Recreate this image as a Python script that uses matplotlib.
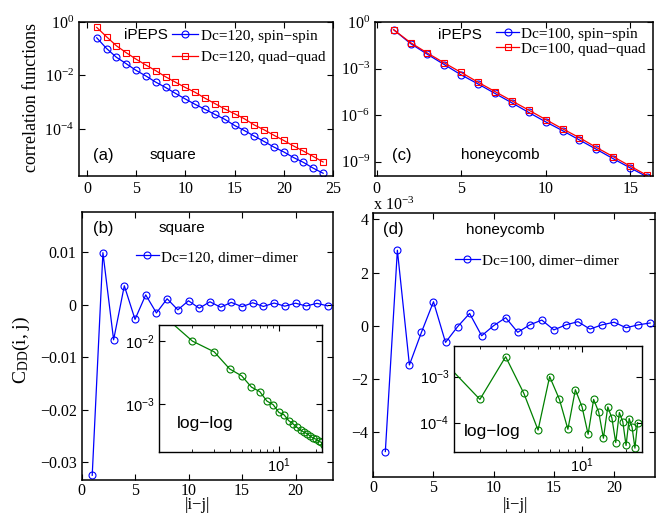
import numpy as np
import matplotlib
matplotlib.use("Agg")
import matplotlib.pyplot as plt
from matplotlib.ticker import FuncFormatter, NullFormatter, FixedLocator

plt.rcParams['font.family'] = ['Liberation Serif', 'DejaVu Serif']
plt.rcParams['mathtext.fontset'] = 'custom'
plt.rcParams['mathtext.rm'] = 'Liberation Serif'
plt.rcParams['mathtext.sf'] = 'Liberation Sans'
plt.rcParams['mathtext.it'] = 'Liberation Serif:italic'
plt.rcParams['font.size'] = 11.5

# ---- data ----
# (a) square lattice, Dc=120
n_sq = np.arange(1, 25)
ss_square = [0.257, 0.102, 0.0479, 0.0275, 0.0155, 0.00955, 0.00562, 0.00355, 0.00214, 0.00132,
             8.3e-4, 5.4e-4, 3.5e-4, 2.3e-4, 1.35e-4, 8.7e-5, 5.4e-5, 3.4e-5, 2.1e-5, 1.38e-5,
             8.5e-6, 5.6e-6, 3.4e-6, 2.2e-6]
qq_square = [0.63, 0.28, 0.129, 0.0708, 0.0407, 0.0245, 0.0151, 0.0089, 0.0056, 0.00355,
             0.00234, 0.00141, 8.9e-4, 5.6e-4, 3.7e-4, 2.4e-4, 1.41e-4, 9.3e-5, 5.8e-5, 3.7e-5,
             2.3e-5, 1.48e-5, 9.3e-6, 5.8e-6]

# (c) honeycomb lattice, Dc=100
n_hc = np.arange(1, 17)
ss_honey = [0.32, 0.041, 8.3e-3, 1.8e-3, 3.9e-4, 1.02e-4, 2.5e-5, 6.2e-6, 1.48e-6, 3.7e-7,
            1.0e-7, 2.5e-8, 6.3e-9, 1.55e-9, 4.0e-10, 1.07e-10]
qq_honey = [0.32, 0.047, 0.01, 2.3e-3, 5.6e-4, 1.32e-4, 3.3e-5, 8.3e-6, 2.1e-6, 5.2e-7,
            1.32e-7, 3.5e-8, 8.3e-9, 2.1e-9, 5.2e-10, 1.32e-10]

# (b) dimer-dimer, square
n_dd = np.arange(1, 24)
dd_square = [-0.0325, 0.0099, -0.0067, 0.0036, -0.0028, 0.00186, -0.00158, 0.00112, -0.00098,
             0.00074, -0.00068, 0.00055, -0.00049, 0.00043, -0.00039, 0.00036, -0.00034,
             0.00031, -0.00029, 0.00028, -0.00026, 0.00025, -0.00023]

# (d) dimer-dimer, honeycomb
dd_honey = [-4.74e-3, 2.84e-3, -1.48e-3, -0.25e-3, 0.9e-3, -0.63e-3, -0.04e-3, 0.46e-3, -0.38e-3,
            0.0, 0.3e-3, -0.25e-3, 0.03e-3, 0.21e-3, -0.16e-3, 0.03e-3, 0.15e-3, -0.13e-3,
            0.03e-3, 0.13e-3, -0.08e-3, 0.03e-3, 0.1e-3]
# inset of (d), log-log
n_dd_in = np.arange(1, 25)
dd_honey_in = [3.2e-3, 3.2e-4, 2.7e-3, 4.3e-4, 6.9e-5, 1.0e-3, 3.2e-4, 7.2e-5, 5.2e-4, 2.2e-4,
               5.6e-5, 3.2e-4, 1.7e-4, 4.6e-5, 2.2e-4, 1.26e-4, 3.7e-5, 1.66e-4, 1.05e-4, 3.2e-5,
               1.23e-4, 7.9e-5, 2.8e-5, 1.0e-4]

BLUE = (0, 0, 1)
RED = (1, 0, 0)
GREEN = (0, 0.5, 0)
SANS = 'Liberation Sans'
LEG_FS = 11
MS_O = 5
MS_S = 4.5

fig = plt.figure(figsize=(6.6, 5.14), dpi=100)


def style(ax, lw=1.1):
    ax.tick_params(which='both', direction='in', top=True, right=True)
    ax.tick_params(which='major', length=4, width=0.8)
    ax.tick_params(which='minor', length=2, width=0.6)
    for s in ax.spines.values():
        s.set_linewidth(lw)


def num_fmt(v, pos):
    s = '%g' % v
    return s.replace('-', '\u2212')


def sans_log(v, pos):
    return r'$\mathsf{10^{%d}}$' % int(round(np.log10(v)))


# ---- (a) ----
axa = fig.add_axes([0.1197, 0.6576, 0.3848, 0.2996])
axa.semilogy(n_sq, ss_square, '-o', color=BLUE, lw=0.9, ms=MS_O, mfc='none', mew=0.8,
             label='Dc=120, spin\u2212spin')
axa.semilogy(n_sq, qq_square, '-s', color=RED, lw=0.9, ms=MS_S, mfc='none', mew=0.8,
             label='Dc=120, quad\u2212quad')
axa.set_xlim(-0.8, 25)
axa.set_ylim(10**-5.76, 1)
axa.set_xticks([0, 5, 10, 15, 20, 25])
axa.yaxis.set_major_locator(FixedLocator([1, 1e-2, 1e-4]))
axa.yaxis.set_minor_locator(FixedLocator([]))
style(axa)
axa.legend(loc='upper left', bbox_to_anchor=(0.365, 0.955), frameon=False, borderpad=0,
           borderaxespad=0, handlelength=1.75, handletextpad=0.15, labelspacing=0.5,
           numpoints=1, fontsize=LEG_FS)
axa.text(0.264, 0.916, 'iPEPS', transform=axa.transAxes, ha='center', va='center',
         family=SANS, fontsize=11)
axa.text(0.094, 0.136, '(a)', transform=axa.transAxes, ha='center', va='center',
         family=SANS, fontsize=12)
axa.text(0.37, 0.136, 'square', transform=axa.transAxes, ha='center', va='center',
         family=SANS, fontsize=11)

# ---- (c) ----
axc = fig.add_axes([0.5682, 0.6576, 0.4212, 0.2996])
axc.semilogy(n_hc, ss_honey, '-o', color=BLUE, lw=0.9, ms=MS_O, mfc='none', mew=0.8,
             label='Dc=100, spin\u2212spin')
axc.semilogy(n_hc, qq_honey, '-s', color=RED, lw=0.9, ms=MS_S, mfc='none', mew=0.8,
             label='Dc=100, quad\u2212quad')
axc.set_xlim(-0.1, 16.35)
axc.set_ylim(10**-9.92, 1)
axc.set_xticks([0, 5, 10, 15])
axc.yaxis.set_major_locator(FixedLocator([1, 1e-3, 1e-6, 1e-9]))
axc.yaxis.set_minor_locator(FixedLocator([]))
style(axc)
axc.legend(loc='upper left', bbox_to_anchor=(0.437, 0.968), frameon=False, borderpad=0,
           borderaxespad=0, handlelength=1.5, handletextpad=0.12, labelspacing=0.1,
           numpoints=1, fontsize=LEG_FS)
axc.text(0.306, 0.916, 'iPEPS', transform=axc.transAxes, ha='center', va='center',
         family=SANS, fontsize=11)
axc.text(0.096, 0.136, '(c)', transform=axc.transAxes, ha='center', va='center',
         family=SANS, fontsize=12)
axc.text(0.45, 0.136, 'honeycomb', transform=axc.transAxes, ha='center', va='center',
         family=SANS, fontsize=11)

# ---- (b) ----
axb = fig.add_axes([0.1235, 0.0661, 0.381, 0.522])
axb.plot(n_dd, dd_square, '-o', color=BLUE, lw=0.9, ms=MS_O, mfc='none', mew=0.8,
         label='Dc=120, dimer\u2212dimer')
axb.set_xlim(0, 23.5)
axb.set_ylim(-0.0334, 0.0177)
axb.set_xticks([0, 5, 10, 15, 20])
axb.set_yticks([-0.03, -0.02, -0.01, 0, 0.01])
axb.yaxis.set_major_formatter(FuncFormatter(num_fmt))
axb.tick_params(axis='x', pad=2)
style(axb)
axb.legend(loc='upper left', bbox_to_anchor=(0.215, 0.857), frameon=False, borderpad=0,
           borderaxespad=0, handlelength=1.52, handletextpad=0.15, numpoints=1, fontsize=LEG_FS)
axb.text(0.085, 0.939, '(b)', transform=axb.transAxes, ha='center', va='center',
         family=SANS, fontsize=12)
axb.text(0.398, 0.939, 'square', transform=axb.transAxes, ha='center', va='center',
         family=SANS, fontsize=11)

# inset (b)
axbi = fig.add_axes([0.2414, 0.1212, 0.2461, 0.2465])
axbi.loglog(n_dd, np.abs(dd_square), '-o', color=GREEN, lw=0.9, ms=MS_O, mfc='none', mew=0.8)
axbi.set_xlim(1.08, 22.2)
axbi.set_ylim(10**-3.75, 10**-1.75)
axbi.xaxis.set_major_locator(FixedLocator([10]))
axbi.yaxis.set_major_locator(FixedLocator([1e-2, 1e-3]))
axbi.yaxis.set_minor_locator(FixedLocator([]))
axbi.xaxis.set_major_formatter(FuncFormatter(sans_log))
axbi.yaxis.set_major_formatter(FuncFormatter(sans_log))
axbi.xaxis.set_minor_formatter(NullFormatter())
axbi.tick_params(labelsize=10.5)
style(axbi, lw=1.0)
axbi.text(0.28, 0.22, 'log\u2212log', transform=axbi.transAxes, ha='center', va='center',
          family=SANS, fontsize=12.5)

# ---- (d) ----
axd = fig.add_axes([0.5656, 0.0714, 0.4268, 0.5136])
axd.plot(n_dd, dd_honey, '-o', color=BLUE, lw=0.9, ms=MS_O, mfc='none', mew=0.8,
         label='Dc=100, dimer\u2212dimer')
axd.set_xlim(0, 23.4)
axd.set_ylim(-5.71e-3, 4.23e-3)
axd.set_xticks([0, 5, 10, 15, 20])
axd.set_yticks([-4e-3, -2e-3, 0, 2e-3, 4e-3])
axd.yaxis.set_major_formatter(FuncFormatter(lambda v, p: num_fmt(round(v * 1e3, 6), p)))
axd.tick_params(axis='x', pad=2)
style(axd)
axd.legend(loc='upper left', bbox_to_anchor=(0.29, 0.848), frameon=False, borderpad=0,
           borderaxespad=0, handlelength=1.63, handletextpad=0.12, numpoints=1, fontsize=LEG_FS)
axd.text(0.071, 0.937, '(d)', transform=axd.transAxes, ha='center', va='center',
         family=SANS, fontsize=12)
axd.text(0.4675, 0.937, 'honeycomb', transform=axd.transAxes, ha='center', va='center',
         family=SANS, fontsize=11)

# inset (d)
axdi = fig.add_axes([0.6879, 0.1212, 0.2844, 0.2062])
axdi.loglog(n_dd_in, dd_honey_in, '-o', color=GREEN, lw=0.9, ms=MS_O, mfc='none', mew=0.8)
axdi.set_xlim(1.33, 25.6)
axdi.set_ylim(10**-4.63, 10**-2.33)
axdi.xaxis.set_major_locator(FixedLocator([10]))
axdi.yaxis.set_major_locator(FixedLocator([1e-3, 1e-4]))
axdi.yaxis.set_minor_locator(FixedLocator([]))
axdi.xaxis.set_major_formatter(FuncFormatter(sans_log))
axdi.yaxis.set_major_formatter(FuncFormatter(sans_log))
axdi.xaxis.set_minor_formatter(NullFormatter())
axdi.tick_params(labelsize=10.5)
style(axdi, lw=1.0)
axdi.text(0.205, 0.186, 'log\u2212log', transform=axdi.transAxes, ha='center', va='center',
          family=SANS, fontsize=12.5)

# ---- labels ----
W, H = 660.0, 514.0
fig.text(32 / W, 1 - 97 / H, 'correlation functions', rotation=90, ha='center', va='center',
         fontsize=13)
fig.text(21 / W, 1 - 350 / H, r'C$_{\rm DD}$(i, j)', rotation=90, ha='center', va='center',
         fontsize=14)
fig.text(197 / W, 1 - 505 / H, '|i\u2212j|', ha='center', va='center', fontsize=12)
fig.text(515 / W, 1 - 505 / H, '|i\u2212j|', ha='center', va='center', fontsize=12)
fig.text(373 / W, 1 - 205 / H, r'x 10$^{-3}$', ha='left', va='center', fontsize=11.5)

fig.savefig('out.png', dpi=100)
